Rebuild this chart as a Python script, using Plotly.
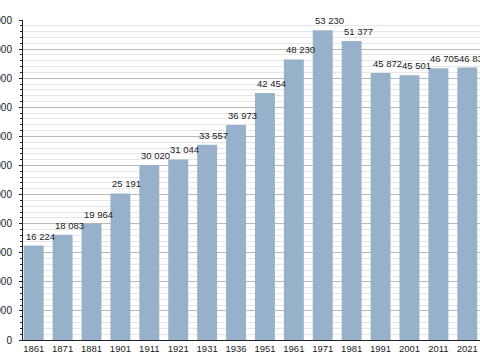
import plotly.graph_objects as go

years = ["1861", "1871", "1881", "1901", "1911", "1921", "1931", "1936",
         "1951", "1961", "1971", "1981", "1991", "2001", "2011", "2021"]
population = [16224, 18083, 19964, 25191, 30020, 31044, 33557, 36973,
              42454, 48230, 53230, 51377, 45872, 45501, 46705, 46830]
value_labels = ["16 224", "18 083", "19 964", "25 191", "30 020", "31 044", "33 557", "36 973",
                "42 454", "48 230", "53 230", "51 377", "45 872", "45 501", "46 705", "46 830"]

idx = list(range(len(years)))
BAR_W = 0.69
BAR_COLOR = "#98b1cb"

fig = go.Figure()
fig.add_trace(go.Bar(
    x=idx, y=population, width=BAR_W,
    marker=dict(color=BAR_COLOR, line=dict(width=0)),
    hoverinfo="skip",
))

for i, v, t in zip(idx, population, value_labels):
    fig.add_annotation(
        x=i - BAR_W / 2, y=v, text=t, showarrow=False,
        xanchor="left", yanchor="bottom", yshift=2,
        font=dict(family="Liberation Sans, Arial, sans-serif", size=9.5, color="#222222"),
    )

fig.update_layout(
    width=480, height=360,
    margin=dict(l=23, r=0, t=20, b=20, autoexpand=False),
    paper_bgcolor="white", plot_bgcolor="white",
    showlegend=False,
    separators=". ",
    font=dict(family="Liberation Sans, Arial, sans-serif", size=10, color="#222222"),
)

fig.update_xaxes(
    range=[-0.37, 15.44],
    tickvals=idx, ticktext=years,
    showgrid=False, zeroline=False,
    showline=True, linecolor="#222222", linewidth=1,
    ticks="", tickfont=dict(size=9.5),
    automargin=False,
    fixedrange=True,
)

fig.update_yaxes(
    range=[0, 55000], dtick=5000, tickformat=",d",
    showgrid=True, gridcolor="#b8b8b8", gridwidth=1,
    zeroline=False,
    showline=True, linecolor="#222222", linewidth=1,
    ticks="outside", ticklen=3, tickcolor="#222222",
    ticklabelstandoff=5,
    tickfont=dict(size=10),
    automargin=False,
    minor=dict(dtick=1000, showgrid=True, gridcolor="#e6e6e6", gridwidth=1,
               ticks="outside", ticklen=2, tickcolor="#222222"),
    fixedrange=True,
)

fig.write_html(
    "out.html",
    config={"displayModeBar": False, "staticPlot": True},
    post_script="document.body.style.margin='0';document.body.style.overflow='hidden';",
)
